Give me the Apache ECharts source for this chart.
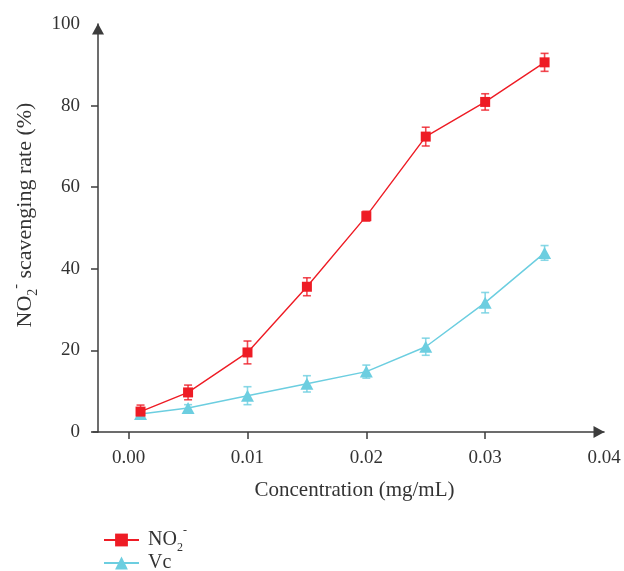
<!DOCTYPE html>
<html>
<head>
<meta charset="utf-8">
<script src="https://cdn.jsdelivr.net/npm/echarts@6/dist/echarts.min.js"></script>
<style>html,body{margin:0;padding:0;background:#fff}#c{width:624px;height:571px}</style>
</head>
<body>
<div id="c"></div>
<script>
// Data
const conc = [0.001, 0.005, 0.01, 0.015, 0.02, 0.025, 0.03, 0.035];
const no2 = [5.0, 9.7, 19.5, 35.6, 52.9, 72.4, 80.9, 90.6];
const no2Err = [1.6, 1.8, 2.8, 2.2, 1.2, 2.3, 2.0, 2.2];
const vc = [4.4, 5.9, 8.9, 11.8, 14.8, 20.9, 31.7, 43.9];
const vcErr = [0.8, 0.8, 2.2, 2.0, 1.6, 2.1, 2.5, 1.8];
const xTicks = [0, 0.01, 0.02, 0.03, 0.04];
const xTickLabels = ['0.00', '0.01', '0.02', '0.03', '0.04'];
const yTicks = [0, 20, 40, 60, 80];

const RED = '#EE1C25';
const CYAN = '#6CCEE0';
const AXIS = '#3c3c3c';
const FONT = 'Liberation Serif';

function errRender(color) {
  return function (params, api) {
    const x = api.value(0), lo = api.value(1), hi = api.value(2);
    const p1 = api.coord([x, lo]), p2 = api.coord([x, hi]);
    const w = 4;
    const st = { stroke: color, lineWidth: 1.6, opacity: 0.8 };
    return {
      type: 'group',
      children: [
        { type: 'line', shape: { x1: p1[0], y1: p1[1], x2: p2[0], y2: p2[1] }, style: st },
        { type: 'line', shape: { x1: p1[0] - w, y1: p1[1], x2: p1[0] + w, y2: p1[1] }, style: st },
        { type: 'line', shape: { x1: p2[0] - w, y1: p2[1], x2: p2[0] + w, y2: p2[1] }, style: st }
      ]
    };
  };
}

function rich(size) {
  return {
    g: { width: 4 },
    n: { fontFamily: FONT, fontSize: size, color: '#333' },
    sub: { fontFamily: FONT, fontSize: Math.round(size * 0.62), color: '#333', verticalAlign: 'bottom', padding: [0, 0, -4, 0] },
    sup: { fontFamily: FONT, fontSize: Math.round(size * 0.62), color: '#333', verticalAlign: 'top', padding: [-5, 0, 0, 0] }
  };
}

const chart = echarts.init(document.getElementById('c'), null, { renderer: 'canvas' });
const legendBase = {
  orient: 'vertical', left: 98, itemWidth: 35, itemHeight: 16, itemGap: 0,
  formatter: function (name) { return name === 'NO2' ? '{g|}{n|NO}{sub|2}{sup|-}' : '{g|}{n|Vc}'; },
  textStyle: { rich: rich(20) }
};
chart.setOption({
  animation: false,
  backgroundColor: '#fff',
  grid: { left: 93, right: 20, top: 24, bottom: 139, containLabel: false },
  xAxis: {
    type: 'value',
    min: -0.003,
    max: 0.04,
    name: 'Concentration (mg/mL)',
    nameLocation: 'middle',
    nameGap: 48,
    nameTextStyle: { fontFamily: FONT, fontSize: 21, color: '#333', padding: [0, 0, 0, 12] },
    axisLine: { show: true, onZero: false, symbol: ['none', 'triangle'], symbolSize: [12, 11], symbolOffset: [0, -5], lineStyle: { color: AXIS, width: 1.5 } },
    axisTick: { show: true, inside: false, length: 7, customValues: xTicks.slice(0, 4), lineStyle: { color: AXIS, width: 1.5 } },
    axisLabel: { customValues: xTicks, margin: 17, fontFamily: FONT, fontSize: 19, color: '#333',
      formatter: function (v) { const i = xTicks.findIndex(t => Math.abs(t - v) < 1e-9); return i >= 0 ? xTickLabels[i] : ''; } },
    splitLine: { show: false }
  },
  yAxis: {
    type: 'value',
    min: 0,
    max: 100,
    interval: 20,
    offset: -5,
    name: '{n|NO}{sub|2}{sup|-}{n| scavenging rate (%)}',
    nameLocation: 'middle',
    nameGap: 56,
    nameRotate: 90,
    nameTextStyle: { rich: rich(22), padding: [0, 0, 0, 26] },
    axisLine: { show: true, onZero: false, symbol: ['none', 'triangle'], symbolSize: [12, 11], symbolOffset: [0, -5], lineStyle: { color: AXIS, width: 1.5 } },
    axisTick: { show: true, inside: false, length: 7, customValues: yTicks, lineStyle: { color: AXIS, width: 1.5 } },
    axisLabel: { margin: 18, fontFamily: FONT, fontSize: 19, color: '#333' },
    splitLine: { show: false }
  },
  legend: [
    Object.assign({}, legendBase, { top: 520, data: ['NO2'] }),
    Object.assign({}, legendBase, { top: 548, data: ['Vc'] })
  ],
  series: [
    {
      type: 'custom', name: 'NO2err', z: 1, silent: true,
      renderItem: errRender(RED),
      data: conc.map((c, i) => [c, no2[i] - no2Err[i], no2[i] + no2Err[i]])
    },
    {
      type: 'custom', name: 'Vcerr', z: 1, silent: true,
      renderItem: errRender(CYAN),
      data: conc.map((c, i) => [c, vc[i] - vcErr[i], vc[i] + vcErr[i]])
    },
    {
      type: 'line', name: 'NO2', z: 3,
      data: conc.map((c, i) => [c, no2[i]]),
      symbol: 'rect', symbolSize: 10,
      itemStyle: { color: RED },
      lineStyle: { color: RED, width: 1.4 }
    },
    {
      type: 'line', name: 'Vc', z: 2,
      data: conc.map((c, i) => [c, vc[i]]),
      symbol: 'triangle', symbolSize: [13, 12],
      itemStyle: { color: CYAN },
      lineStyle: { color: CYAN, width: 1.5 }
    }
  ]
});
</script>
</body>
</html>
